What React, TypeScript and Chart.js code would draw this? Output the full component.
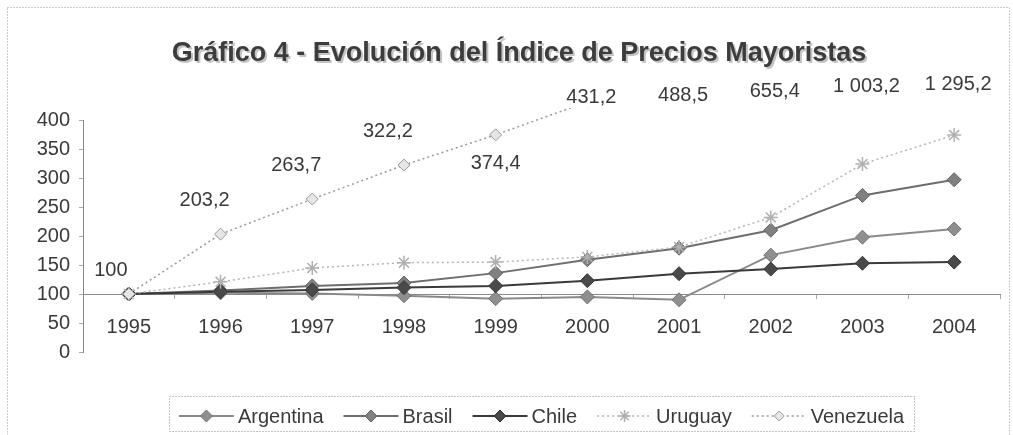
import React, { useEffect, useRef } from 'react';
import { Chart, registerables } from 'chart.js';

Chart.register(...registerables);

const years = ['1995', '1996', '1997', '1998', '1999', '2000', '2001', '2002', '2003', '2004'];
const argentina = [100, 102, 101, 97, 92, 95, 90, 167, 198, 212];
const brasil = [100, 106, 114, 119, 136, 159, 179, 210, 270, 297];
const chile = [100, 104, 107, 111, 114, 123, 135, 143, 153, 155];
const uruguay = [100, 121, 145, 154, 155, 164, 181, 232, 324, 374];
const venezuela = [100, 203.2, 263.7, 322.2, 374.4, 431.2, 488.5, 655.4, 1003.2, 1295.2];
const yTicks = [0, 50, 100, 150, 200, 250, 300, 350, 400];
const seriesNames = ['Argentina', 'Brasil', 'Chile', 'Uruguay', 'Venezuela'];
const titleText = 'Gráfico 4 - Evolución del Índice de Precios Mayoristas';

const FONT = '"Liberation Sans", Arial, sans-serif';
const TEXT = '#3a3a3a';

function fmt(v: number): string {
  const isInt = Math.abs(v - Math.round(v)) < 1e-9;
  const s = isInt ? String(Math.round(v)) : v.toFixed(1);
  const [ip, dp] = s.split('.');
  const withSep = ip.replace(/\B(?=(\d{3})+(?!\d))/g, ' ');
  return dp ? withSep + ',' + dp : withSep;
}

const styles = [
  { line: '#8a8a8a', fill: '#8f8f8f', stroke: '#707070', dash: [] as number[], width: 2, shape: 'diamond', r: 7 },
  { line: '#6e6e6e', fill: '#808080', stroke: '#606060', dash: [] as number[], width: 2, shape: 'diamond', r: 7 },
  { line: '#3a3a3a', fill: '#4a4a4a', stroke: '#333333', dash: [] as number[], width: 2, shape: 'diamond', r: 7 },
  { line: '#b5b5b5', fill: '#d0d0d0', stroke: '#b0b0b0', dash: [2, 3], width: 1.5, shape: 'star', r: 7 },
  { line: '#9a9a9a', fill: '#e6e6e6', stroke: '#999999', dash: [2, 3], width: 1.5, shape: 'hollow', r: 6 },
];

function drawMarker(ctx: CanvasRenderingContext2D, shape: string, x: number, y: number, r: number, fill: string, stroke: string) {
  ctx.save();
  ctx.setLineDash([]);
  if (shape === 'star') {
    ctx.strokeStyle = stroke;
    ctx.lineWidth = 1.5;
    ctx.beginPath();
    for (let k = 0; k < 4; k++) {
      const a = (k * Math.PI) / 4;
      ctx.moveTo(x - Math.cos(a) * r, y - Math.sin(a) * r);
      ctx.lineTo(x + Math.cos(a) * r, y + Math.sin(a) * r);
    }
    ctx.stroke();
  } else {
    ctx.beginPath();
    ctx.moveTo(x, y - r);
    ctx.lineTo(x + r, y);
    ctx.lineTo(x, y + r);
    ctx.lineTo(x - r, y);
    ctx.closePath();
    ctx.fillStyle = fill;
    ctx.fill();
    ctx.strokeStyle = stroke;
    ctx.lineWidth = 1;
    ctx.stroke();
  }
  ctx.restore();
}

const decorPlugin = {
  id: 'decor',
  afterDraw(chart: any) {
    const ctx: CanvasRenderingContext2D = chart.ctx;
    const area = chart.chartArea;
    ctx.save();
    // outer dotted frame
    ctx.strokeStyle = '#9a9a9a';
    ctx.lineWidth = 1;
    ctx.setLineDash([1, 2]);
    ctx.strokeRect(7.5, 7.5, chart.width - 11, chart.height + 10);

    // title
    ctx.setLineDash([]);
    ctx.font = 'bold 27px ' + FONT;
    ctx.textAlign = 'center';
    ctx.textBaseline = 'alphabetic';
    ctx.fillStyle = '#c4c4c4';
    ctx.fillText(titleText, 521, 63);
    ctx.fillStyle = '#3c3c3c';
    ctx.fillText(titleText, 519, 61);

    // Venezuela data labels
    const meta = chart.getDatasetMeta(4);
    const yMax = chart.scales.y.max;
    ctx.font = '20px ' + FONT;
    ctx.fillStyle = TEXT;
    ctx.textBaseline = 'middle';
    meta.data.forEach((pt: any, i: number) => {
      const v = venezuela[i];
      let x = pt.x;
      let y = pt.y;
      if (v > yMax) {
        x = x + 4;
        y = area.top - 22 - Math.min(14, Math.log2(v / yMax) * 9);
      } else if (y - 34 < area.top) {
        y = y + 29;
      } else if (i === 0) {
        x = x - 18;
        y = y - 24;
      } else {
        x = x - 16;
        y = y - 34;
      }
      ctx.fillText(fmt(v), x, y);
    });

    // legend
    ctx.font = '20px ' + FONT;
    const lineLen = 55;
    const gap = 4;
    const itemGap = 20;
    const widths = seriesNames.map((n) => ctx.measureText(n).width);
    const total = widths.reduce((a, w) => a + lineLen + gap + w, 0) + itemGap * (seriesNames.length - 1);
    const cx = (area.left + area.right) / 2;
    let x = cx - total / 2;
    const ly = 416;
    ctx.strokeStyle = '#8a8a8a';
    ctx.lineWidth = 1;
    ctx.setLineDash([1, 2]);
    ctx.strokeRect(Math.round(x - 10) + 0.5, 396.5, Math.round(total + 20), 35);
    seriesNames.forEach((name, i) => {
      const s = styles[i];
      ctx.save();
      ctx.strokeStyle = s.line;
      ctx.lineWidth = s.width;
      ctx.setLineDash(s.dash);
      ctx.beginPath();
      ctx.moveTo(x, ly);
      ctx.lineTo(x + lineLen, ly);
      ctx.stroke();
      ctx.restore();
      drawMarker(ctx, s.shape, x + lineLen / 2, ly, s.r - 1, s.fill, s.stroke);
      ctx.fillStyle = TEXT;
      ctx.textAlign = 'left';
      ctx.textBaseline = 'middle';
      ctx.fillText(name, x + lineLen + gap, ly + 1);
      x += lineLen + gap + widths[i] + itemGap;
    });
    ctx.restore();
  },
};

const markerPlugin = {
  id: 'markers',
  afterDatasetsDraw(chart: any) {
    const ctx: CanvasRenderingContext2D = chart.ctx;
    const area = chart.chartArea;
    ctx.save();
    ctx.beginPath();
    ctx.rect(area.left - 10, area.top - 12, area.right - area.left + 20, area.bottom - area.top + 22);
    ctx.clip();
    for (let d = 0; d < 5; d++) {
      const meta = chart.getDatasetMeta(d);
      const s = styles[d];
      meta.data.forEach((pt: any) => {
        drawMarker(ctx, s.shape, pt.x, pt.y, s.r, s.fill, s.stroke);
      });
    }
    ctx.restore();
  },
};

export default function App() {
  const ref = useRef<HTMLCanvasElement | null>(null);
  useEffect(() => {
    document.body.style.margin = '0';
    const canvas = ref.current;
    if (!canvas) return;
    const seriesData = [argentina, brasil, chile, uruguay, venezuela];
    const chart = new Chart(canvas, {
      type: 'line',
      data: {
        labels: years,
        datasets: seriesNames.map((name, i) => ({
          label: name,
          data: seriesData[i],
          borderColor: styles[i].line,
          backgroundColor: styles[i].fill,
          borderWidth: styles[i].width,
          borderDash: styles[i].dash,
          pointRadius: 0,
          pointHoverRadius: 0,
          tension: 0,
          fill: false,
          clip: { left: 10, top: 12, right: 10, bottom: 10 } as any,
          order: 5 - i,
        })),
      },
      options: {
        animation: false,
        responsive: true,
        maintainAspectRatio: false,
        layout: { padding: { top: 120, bottom: 83, left: 0, right: 13 } },
        plugins: {
          legend: { display: false },
          title: { display: false },
          tooltip: { enabled: false },
        },
        scales: {
          x: {
            type: 'category',
            position: { y: 100 } as any,
            offset: true,
            grid: { drawOnChartArea: false, drawTicks: true, tickLength: 4, color: '#aaa', offset: true },
            border: { display: true, color: '#8a8a8a', dash: [1, 2], width: 1 },
            ticks: { font: { family: FONT, size: 20 }, color: TEXT, padding: 17, maxRotation: 0, autoSkip: false },
          },
          y: {
            type: 'linear',
            min: 0,
            max: 400,
            afterBuildTicks: (s: any) => {
              s.ticks = yTicks.map((v) => ({ value: v }));
            },
            afterFit: (s: any) => {
              s.width = 83;
            },
            grid: { drawOnChartArea: false, drawTicks: true, tickLength: 4, color: '#aaa' },
            border: { display: true, color: '#8a8a8a', dash: [1, 2], width: 1 },
            ticks: { font: { family: FONT, size: 20 }, color: TEXT, padding: 9 },
          },
        },
      },
      plugins: [markerPlugin, decorPlugin],
    });
    return () => chart.destroy();
  }, []);
  return (
    <div style={{ position: 'relative', width: 1013, height: 435, background: '#fff' }}>
      <canvas ref={ref} />
    </div>
  );
}
